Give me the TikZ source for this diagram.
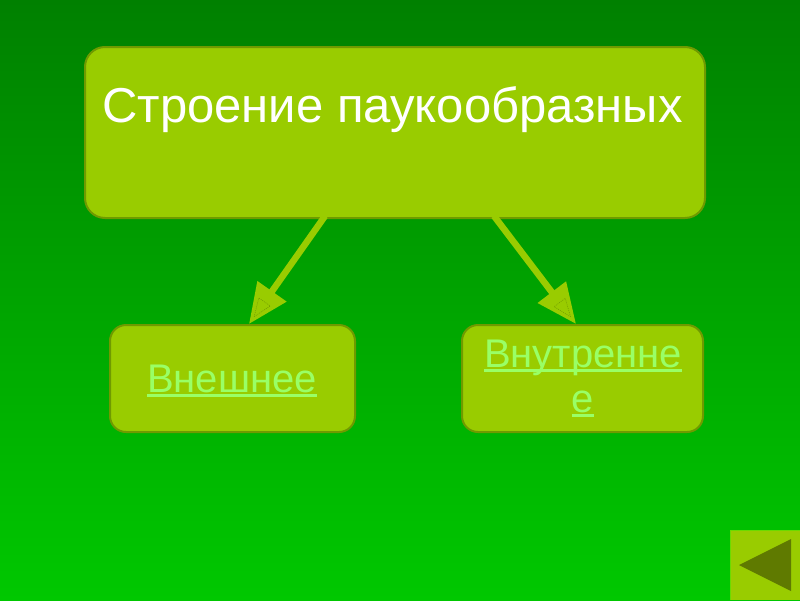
\documentclass[tikz,border=0pt]{standalone}
\usepackage{fontspec}
\setmainfont{Liberation Sans}
\usetikzlibrary{arrows.meta,calc}
\newcommand{\myul}[1]{\setbox0\hbox{#1}\rlap{\rule[-5pt]{\wd0}{3pt}}\box0}
\definecolor{bgtop}{HTML}{008000}
\definecolor{bgbot}{HTML}{00C800}
\definecolor{boxfill}{HTML}{99CC00}
\definecolor{boxline}{HTML}{6F9A00}
\definecolor{linktext}{HTML}{99FF66}
\definecolor{darkolive}{HTML}{5F7A00}
\tikzset{
  mainbox/.style={draw=boxline, line width=2pt, fill=boxfill, rounded corners=20pt},
  subbox/.style={draw=boxline, line width=2pt, fill=boxfill, rounded corners=16pt},
  conn/.style={draw=boxfill, line width=6.5pt, -{Triangle[length=40pt,width=34pt]}},
  innertri/.style={draw=boxline, line width=0.5pt, dash pattern=on 1pt off 1pt},
}
\begin{document}
\begin{tikzpicture}[x=1pt,y=-1pt]
\useasboundingbox (0,0) rectangle (800,600);
\shade[top color=bgtop, bottom color=bgbot] (0,0) rectangle (800,600);
% boxes
\draw[mainbox] (85,47) rectangle (705,218);
\node[anchor=base west, text=white, font=\fontsize{49}{53}\selectfont, inner sep=0pt] (top) at (102,122) {Строение паукообразных};
\draw[subbox] (110,325) rectangle (355,432);
\node[text=linktext, font=\fontsize{40}{45}\selectfont, inner sep=0pt, anchor=base] (left) at (232,392) {\myul{Внешнее}};
\draw[subbox] (462,325) rectangle (703,432);
\node[text=linktext, font=\fontsize{40}{45}\selectfont, inner sep=0pt, align=center, anchor=base] (right) at (583,412) {\myul{Внутренне}\\\myul{е}};
% connectors
\coordinate (s1) at (325,216);
\coordinate (e1) at (249,324);
\coordinate (s2) at (494,216);
\coordinate (e2) at (576,324);
\draw[conn] (s1) -- (e1);
\draw[conn] (s2) -- (e2);
\foreach \s/\e in {s1/e1,s2/e2}{
  \coordinate (A) at ($(\e)!9pt!(\s)$);
  \coordinate (B) at ($(\e)!27pt!(\s)$);
  \draw[innertri] (A) -- ($(B)!7pt!90:(\e)$) -- ($(B)!7pt!-90:(\e)$) -- cycle;
}
% back button
\fill[boxfill] (730,530) rectangle (800,600);
\draw[line width=1pt, draw=boxfill!70!green] (730.5,600) -- (730.5,530.5) -- (800,530.5);
\fill[darkolive] (739,565) -- (791,539) -- (791,591) -- cycle;
\end{tikzpicture}
\end{document}
